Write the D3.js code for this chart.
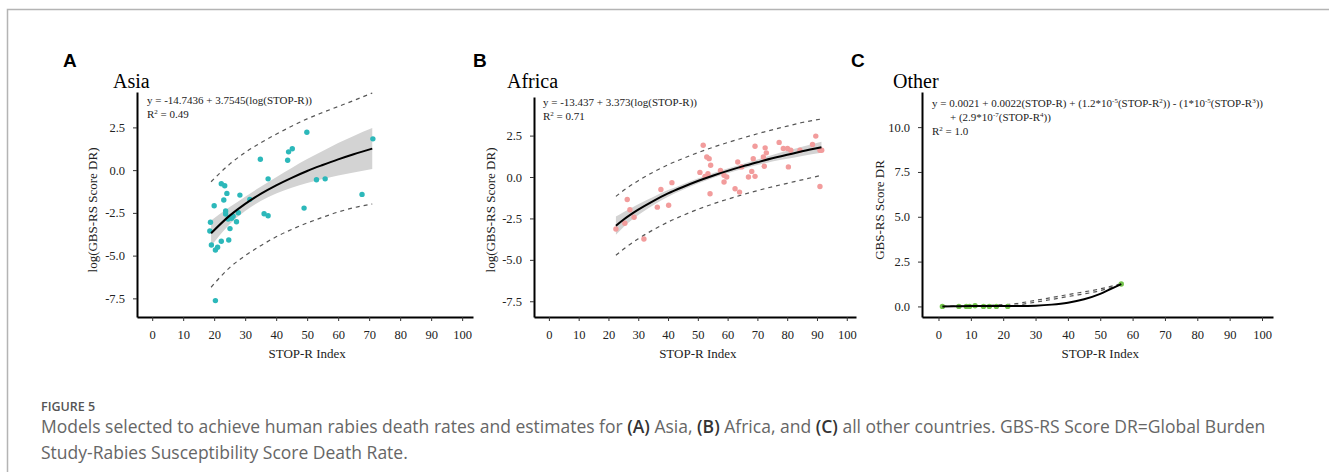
<!DOCTYPE html>
<html>
<head>
<meta charset="utf-8">
<script src="https://cdn.jsdelivr.net/npm/d3@7"></script>
<style>
  html, body { margin: 0; padding: 0; background: #fff; }
  svg { display: block; }
</style>
</head>
<body>
<div id="container"></div>
<script>
// ---------- data ----------
// Panel A: Asia
const asiaX = [18.8, 18.6, 19.1, 20.0, 20.4, 21.1, 20.4, 22.3, 23.4, 23.1, 24.1, 23.7, 23.7, 22.3, 24.7, 25.1, 24.5, 25.6, 27.2, 27.8, 28.3, 31.5, 34.9, 36.1, 37.4, 37.4, 43.7, 44.0, 45.2, 49.0, 49.9, 53.0, 55.8, 67.7, 71.2, 26.1];
const asiaY = [-3.05, -3.56, -4.38, -2.08, -4.67, -4.51, -7.63, -0.80, -0.91, -1.75, -1.36, -2.39, -2.57, -4.16, -4.09, -3.42, -2.86, -2.82, -3.02, -2.49, -1.46, -1.71, 0.64, -2.55, -2.67, -0.51, 0.58, 1.07, 1.25, -2.22, 2.22, -0.56, -0.51, -1.42, 1.83, -2.70];
const asiaFitX = [19, 25, 30, 35, 40, 45, 50, 55, 60, 65, 71];
const asiaFit = [-3.69, -2.66, -1.97, -1.39, -0.89, -0.45, -0.05, 0.30, 0.63, 0.93, 1.26];
const asiaBandLo = [-4.44, -3.16, -2.39, -1.81, -1.37, -1.03, -0.75, -0.52, -0.32, -0.14, 0.06];
const asiaBandHi = [-2.94, -2.16, -1.55, -0.97, -0.41, 0.13, 0.65, 1.12, 1.58, 2.00, 2.46];
const asiaPredLo = [-6.85, -5.70, -5.00, -4.42, -3.90, -3.47, -3.09, -2.76, -2.45, -2.20, -1.98];
const asiaPredHi = [-0.68, 0.35, 1.03, 1.60, 2.10, 2.57, 3.00, 3.37, 3.72, 4.07, 4.51];

// Panel B: Africa
const africaX = [22.5, 25.5, 26.3, 27.2, 28.6, 31.9, 36.4, 37.6, 40.2, 41.3, 50.7, 51.8, 53.0, 53.8, 53.4, 54.1, 54.3, 52.4, 57.6, 58.8, 58.8, 59.7, 62.5, 63.4, 64.0, 64.7, 67.0, 68.1, 68.6, 69.2, 69.2, 72.0, 72.3, 72.6, 73.0, 77.3, 78.7, 80.1, 80.4, 81.2, 84.3, 88.5, 89.6, 91.0, 91.0, 91.6];
const africaY = [-3.14, -2.79, -1.36, -1.98, -2.43, -3.74, -1.82, -0.75, -1.70, -0.34, 0.28, 1.92, 1.21, 1.11, 0.20, -1.01, 0.71, 0.04, 0.40, 0.10, -0.30, 0.00, -0.71, 0.91, -0.91, 0.61, 0.00, 0.34, 1.11, 1.86, 0.04, 1.21, 0.65, 1.76, 1.46, 2.09, 1.72, 1.72, 0.61, 1.62, 1.62, 1.96, 2.47, 1.62, -0.57, 1.62];
const africaFitX = [22.5, 25, 30, 35, 40, 45, 50, 55, 60, 65, 70, 75, 80, 85, 91.5];
const africaFit = [-2.94, -2.58, -1.97, -1.45, -0.99, -0.60, -0.24, 0.08, 0.37, 0.64, 0.89, 1.13, 1.34, 1.55, 1.80];
const africaBandLo = [-3.49, -3.03, -2.30, -1.70, -1.19, -0.77, -0.39, -0.06, 0.23, 0.49, 0.72, 0.93, 1.10, 1.27, 1.47];
const africaBandHi = [-2.39, -2.13, -1.64, -1.20, -0.79, -0.43, -0.09, 0.22, 0.51, 0.79, 1.06, 1.33, 1.58, 1.83, 2.13];
const africaPredLo = [-4.72, -4.36, -3.73, -3.19, -2.72, -2.32, -1.95, -1.63, -1.34, -1.07, -0.82, -0.59, -0.38, -0.17, 0.10];
const africaPredHi = [-1.17, -0.82, -0.22, 0.29, 0.74, 1.12, 1.47, 1.79, 2.08, 2.35, 2.61, 2.85, 3.07, 3.29, 3.50];

// Panel C: Other
const otherX = [1.2, 6.3, 8.6, 9.6, 11.3, 13.9, 15.7, 17.9, 21.4, 56.5];
const otherY = [0.0, 0.0, 0.0, 0.0, 0.04, 0.0, 0.0, 0.0, 0.0, 1.25];
const otherFitX = [1.2, 5, 10, 15, 20, 25, 30, 35, 40, 45, 50, 53, 56.5];
const otherFit = [0.0, 0.01, 0.02, 0.02, 0.02, 0.02, 0.04, 0.10, 0.21, 0.40, 0.70, 0.95, 1.25];
const otherPredX = [1.2, 22, 30, 40, 50, 56.5];
const otherPredLo = [0.0, 0.04, 0.24, 0.55, 0.88, 1.22];
const otherPredHi = [0.0, 0.12, 0.34, 0.66, 0.98, 1.27];

// tick labels
const xTicks = [0, 10, 20, 30, 40, 50, 60, 70, 80, 90, 100];
const logYTicks = [-7.5, -5.0, -2.5, 0.0, 2.5];
const otherYTicks = [0.0, 2.5, 5.0, 7.5, 10.0];

/*==============================================
  LAYOUT
===============================================*/
const W = 1329, H = 472;
const serif = "'Liberation Serif', 'Times New Roman', serif";

const svg = d3.select("#container")
  .append("svg")
  .attr("width", W)
  .attr("height", H)
  .attr("font-family", serif);

// light frame round the figure
svg.append("path")
  .attr("d", `M7.5,${H} V9.5 H${W}`)
  .attr("fill", "none")
  .attr("stroke", "#b4b4b4")
  .attr("stroke-width", 1.5);

const zip = (xs, ys) => xs.map((x, i) => [x, ys[i]]);

const panels = [
  {
    letter: "A", letterX: 63, title: "Asia", titleX: 113,
    left: 137, right: 473, top: 92, bottom: 317,
    xDom: [-4.9, 103.5], yDom: [-8.59, 4.57], yTicks: logYTicks,
    yLabel: "log(GBS-RS Score DR)", yLabelX: 97,
    color: "#2cb8ba",
    points: zip(asiaX, asiaY),
    fit: zip(asiaFitX, asiaFit),
    bandLo: asiaBandLo, bandHi: asiaBandHi, bandX: asiaFitX,
    pred: [zip(asiaFitX, asiaPredLo), zip(asiaFitX, asiaPredHi)],
    eq: [{ x: 147, y: 104, s: "y = -14.7436 + 3.7545(log(STOP-R))" },
         { x: 147, y: 118, s: "R^{2} = 0.49" }]
  },
  {
    letter: "B", letterX: 473, title: "Africa", titleX: 507,
    left: 534, right: 856, top: 97, bottom: 317,
    xDom: [-5.0, 103.1], yDom: [-8.45, 4.83], yTicks: logYTicks,
    yLabel: "log(GBS-RS Score DR)", yLabelX: 495,
    color: "#f29c9c",
    points: zip(africaX, africaY),
    fit: zip(africaFitX, africaFit),
    bandLo: africaBandLo, bandHi: africaBandHi, bandX: africaFitX,
    pred: [zip(africaFitX, africaPredLo), zip(africaFitX, africaPredHi)],
    eq: [{ x: 543, y: 106, s: "y = -13.437 + 3.373(log(STOP-R))" },
         { x: 543, y: 120, s: "R^{2} = 0.71" }]
  },
  {
    letter: "C", letterX: 851, title: "Other", titleX: 893,
    left: 922, right: 1273, top: 92, bottom: 317,
    xDom: [-5.1, 103.4], yDom: [-0.59, 11.96], yTicks: otherYTicks,
    yLabel: "GBS-RS Score DR", yLabelX: 884,
    color: "#74c44c",
    points: zip(otherX, otherY),
    fit: zip(otherFitX, otherFit),
    bandLo: null,
    pred: [zip(otherPredX, otherPredLo), zip(otherPredX, otherPredHi)],
    eq: [{ x: 932, y: 107, s: "y = 0.0021 + 0.0022(STOP-R) + (1.2*10^{-5}(STOP-R^{2})) - (1*10^{-5}(STOP-R^{3}))" },
         { x: 950, y: 121, s: "+ (2.9*10^{-7}(STOP-R^{4}))" },
         { x: 932, y: 135, s: "R^{2} = 1.0" }]
  }
];

// writes "a^{b}c" as text with raised tspans
const richText = (sel, str) => {
  const parts = str.split(/(\^\{[^}]*\})/).filter(p => p.length);
  let back = 0;
  parts.forEach(p => {
    if (p.startsWith("^{")) {
      sel.append("tspan").attr("dy", -4).attr("font-size", 7).text(p.slice(2, -1));
      back = 4;
    } else {
      sel.append("tspan").attr("dy", back).text(p);
      back = 0;
    }
  });
};

/*==============================================
  DRAW EACH PANEL
===============================================*/
panels.forEach(p => {
  const x = d3.scaleLinear().domain(p.xDom).range([p.left, p.right]);
  const y = d3.scaleLinear().domain(p.yDom).range([p.bottom, p.top]);
  const g = svg.append("g");

  // panel letter and title
  svg.append("text")
    .attr("x", p.letterX).attr("y", 67)
    .attr("font-family", "'Liberation Sans', Arial, sans-serif")
    .attr("font-weight", "bold").attr("font-size", 19)
    .text(p.letter);

  svg.append("text")
    .attr("x", p.titleX).attr("y", 88)
    .attr("font-size", 20)
    .text(p.title);

  // confidence band
  if (p.bandLo) {
    const area = d3.area()
      .x((d, i) => x(p.bandX[i]))
      .y0((d, i) => y(p.bandLo[i]))
      .y1((d, i) => y(p.bandHi[i]))
      .curve(d3.curveMonotoneX);
    g.append("path")
      .datum(p.bandX)
      .attr("d", area)
      .attr("fill", "#d3d3d3");
  }

  const line = d3.line()
    .x(d => x(d[0]))
    .y(d => y(d[1]))
    .curve(d3.curveMonotoneX);

  // prediction interval
  p.pred.forEach(pr => {
    g.append("path")
      .datum(pr)
      .attr("d", line)
      .attr("fill", "none")
      .attr("stroke", "#555")
      .attr("stroke-width", 1.2)
      .attr("stroke-dasharray", "4,4");
  });

  // points
  g.selectAll("circle")
    .data(p.points)
    .enter()
    .append("circle")
    .attr("cx", d => x(d[0]))
    .attr("cy", d => y(d[1]))
    .attr("r", 2.7)
    .attr("fill", p.color);

  // fitted curve
  g.append("path")
    .datum(p.fit)
    .attr("d", line)
    .attr("fill", "none")
    .attr("stroke", "#000")
    .attr("stroke-width", 2);

  // axes
  const xAxis = d3.axisBottom(x)
    .tickValues(xTicks)
    .tickSize(4)
    .tickSizeOuter(0)
    .tickPadding(9)
    .tickFormat(d3.format("d"));

  const yAxis = d3.axisLeft(y)
    .tickValues(p.yTicks)
    .tickSize(4)
    .tickSizeOuter(0)
    .tickPadding(8)
    .tickFormat(d => d.toFixed(1));

  const gx = svg.append("g")
    .attr("transform", `translate(0, ${p.bottom})`)
    .call(xAxis);
  const gy = svg.append("g")
    .attr("transform", `translate(${p.left}, 0)`)
    .call(yAxis);

  [gx, gy].forEach(a => {
    a.select(".domain").attr("stroke-width", 2).attr("stroke", "#000");
    a.selectAll(".tick line").attr("stroke", "#333").attr("stroke-width", 1);
    a.selectAll(".tick text")
      .attr("font-family", serif)
      .attr("font-size", 12.5)
      .attr("fill", "#222");
  });

  // axis titles
  svg.append("text")
    .attr("x", (x(0) + x(100)) / 2).attr("y", 358)
    .attr("text-anchor", "middle")
    .attr("font-size", 13)
    .attr("fill", "#222")
    .text("STOP-R Index");

  svg.append("text")
    .attr("transform", `translate(${p.yLabelX}, 210) rotate(-90)`)
    .attr("text-anchor", "middle")
    .attr("font-size", 13)
    .attr("fill", "#222")
    .text(p.yLabel);

  // equations
  p.eq.forEach(e => {
    const t = svg.append("text")
      .attr("x", e.x).attr("y", e.y)
      .attr("font-size", 11)
      .attr("fill", "#222");
    richText(t, e.s);
  });
});

/*==============================================
  CAPTION
===============================================*/
const sans = "'Open Sans', 'Noto Sans', sans-serif";

svg.append("text")
  .attr("x", 41).attr("y", 411)
  .attr("font-family", sans)
  .attr("font-size", 12.5)
  .attr("font-weight", 600)
  .attr("fill", "#555")
  .text("FIGURE 5");

const captionLines = [
  ["Models selected to achieve human rabies death rates and estimates for ", ["(A)"], " Asia, ", ["(B)"], " Africa, and ", ["(C)"], " all other countries. GBS-RS Score DR=Global Burden"],
  ["Study-Rabies Susceptibility Score Death Rate."]
];

captionLines.forEach((parts, i) => {
  const t = svg.append("text")
    .attr("x", 41).attr("y", 433 + i * 26)
    .attr("font-family", sans)
    .attr("font-size", 17.5)
    .attr("fill", "#666");
  parts.forEach(part => {
    if (Array.isArray(part)) {
      t.append("tspan").attr("fill", "#333").attr("font-weight", 600).text(part[0]);
    } else {
      t.append("tspan").text(part);
    }
  });
});
</script>
</body>
</html>
